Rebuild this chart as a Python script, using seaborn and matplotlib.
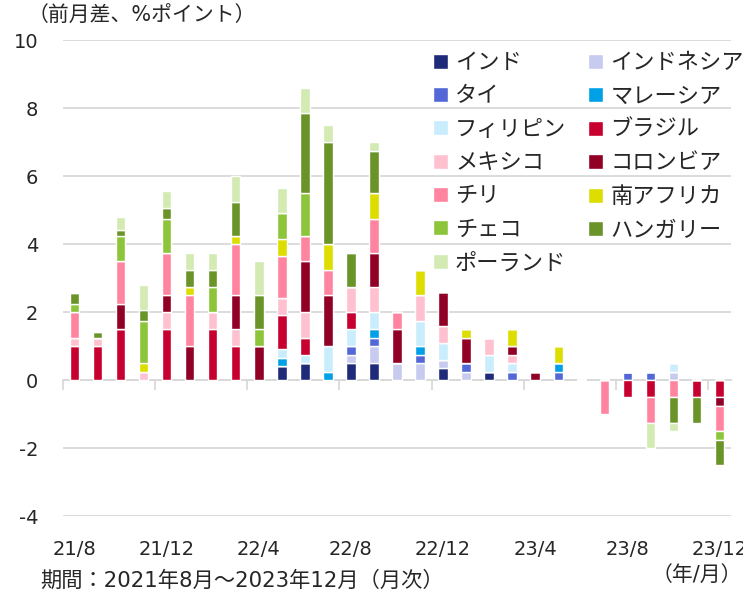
import numpy as np
import matplotlib
matplotlib.use("Agg")
import matplotlib.pyplot as plt
import seaborn as sns
from matplotlib.patches import Patch

# months 2021/8 .. 2023/12
months = ["21/8", "21/9", "21/10", "21/11", "21/12",
          "22/1", "22/2", "22/3", "22/4", "22/5", "22/6", "22/7", "22/8",
          "22/9", "22/10", "22/11", "22/12",
          "23/1", "23/2", "23/3", "23/4", "23/5", "23/6", "23/7", "23/8",
          "23/9", "23/10", "23/11", "23/12"]

# month-over-month change of policy rate (%pt)
india =       [0, 0, 0, 0, 0,  0, 0, 0, 0, 0.4,  0.5, 0, 0.5, 0.5, 0,  0, 0.35, 0, 0.25, 0,  0, 0, 0, 0, 0,  0, 0, 0, 0]
indonesia =   [0, 0, 0, 0, 0,  0, 0, 0, 0, 0,  0, 0, 0.25, 0.5, 0.5,  0.5, 0.25, 0.25, 0, 0,  0, 0, 0, 0, 0,  0, 0.25, 0, 0]
thailand =    [0, 0, 0, 0, 0,  0, 0, 0, 0, 0,  0, 0, 0.25, 0.25, 0,  0.25, 0, 0.25, 0, 0.25,  0, 0.25, 0, 0, 0.25,  0.25, 0, 0, 0]
malaysia =    [0, 0, 0, 0, 0,  0, 0, 0, 0, 0.25,  0, 0.25, 0, 0.25, 0,  0.25, 0, 0, 0, 0,  0, 0.25, 0, 0, 0,  0, 0, 0, 0]
philippines = [0, 0, 0, 0, 0,  0, 0, 0, 0, 0.25,  0.25, 0.75, 0.5, 0.5, 0,  0.75, 0.5, 0, 0.5, 0.25,  0, 0, 0, 0, 0,  0, 0.25, 0, 0]
brazil =      [1, 1, 1.5, 0, 1.5,  0, 1.5, 1, 0, 1,  0.5, 0, 0.5, 0, 0,  0, 0, 0, 0, 0,  0, 0, 0, 0, -0.5,  -0.5, 0, -0.5, -0.5]
mexico =      [0.25, 0.25, 0, 0.25, 0.5,  0, 0.5, 0.5, 0, 0.5,  0.75, 0, 0.75, 0.75, 0,  0.75, 0.5, 0, 0.5, 0.25,  0, 0, 0, 0, 0,  0, 0, 0, 0]
colombia =    [0, 0, 0.75, 0, 0.5,  1, 0, 1, 1, 0,  1.5, 1.5, 0, 1, 1,  0, 1, 0.75, 0, 0.25,  0.25, 0, 0, 0, 0,  0, 0, 0, -0.25]
chile =       [0.75, 0, 1.25, 0, 1.25,  1.5, 0, 1.5, 0, 1.25,  0.75, 0.75, 0, 1, 0.5,  0, 0, 0, 0, 0,  0, 0, 0, -1, 0,  -0.75, -0.5, 0, -0.75]
safrica =     [0, 0, 0, 0.25, 0,  0.25, 0, 0.25, 0, 0.5,  0, 0.75, 0, 0.75, 0,  0.75, 0, 0.25, 0, 0.5,  0, 0.5, 0, 0, 0,  0, 0, 0, 0]
czech =       [0.25, 0, 0.75, 1.25, 1,  0, 0.75, 0, 0.5, 0.75,  1.25, 0, 0, 0, 0,  0, 0, 0, 0, 0,  0, 0, 0, 0, 0,  0, 0, 0, -0.25]
hungary =     [0.3, 0.15, 0.15, 0.3, 0.3,  0.5, 0.5, 1, 1, 0,  2.35, 3, 1, 1.25, 0,  0, 0, 0, 0, 0,  0, 0, 0, 0, 0,  0, -0.75, -0.75, -0.75]
poland =      [0, 0, 0.4, 0.75, 0.5,  0.5, 0.5, 0.75, 1, 0.75,  0.75, 0.5, 0, 0.25, 0,  0, 0, 0, 0, 0,  0, 0, 0, 0, 0,  -0.75, -0.25, 0, 0]

names = ["インド", "インドネシア", "タイ", "マレーシア", "フィリピン", "ブラジル", "メキシコ",
         "コロンビア", "チリ", "南アフリカ", "チェコ", "ハンガリー", "ポーランド"]
series = [india, indonesia, thailand, malaysia, philippines, brazil, mexico,
          colombia, chile, safrica, czech, hungary, poland]
colors = ["#1f2b78", "#c6cbef", "#5368d6", "#00a0e6", "#c9edfc", "#c8002f", "#ffc0d0",
          "#910025", "#ff84a0", "#dddd00", "#8cc43a", "#6a9328", "#d3eab3"]

sns.set_style("white")
plt.rcParams["font.family"] = ["DejaVu Sans", "Noto Sans CJK JP"]
plt.rcParams["axes.unicode_minus"] = False

fig = plt.figure(figsize=(7.43, 5.9), dpi=100)
ax = fig.add_axes([63 / 743, 1 - 516 / 590, 668 / 743, 476 / 590])

pos_base = np.zeros(len(months))
neg_base = np.zeros(len(months))
for vals, c in zip(series, colors):
    v = np.array(vals, dtype=float)
    bottom = np.where(v >= 0, pos_base, neg_base)
    sns.barplot(x=months, y=v, order=months, color=c, saturation=1, width=0.41,
                errorbar=None, bottom=bottom, zorder=3, ax=ax)
    pos_base += np.clip(v, 0, None)
    neg_base += np.clip(v, None, 0)

grid_c = "#d9d9d9"
ax.set_xlim(-0.5, len(months) - 0.5)
ax.set_ylim(-4, 10)
ax.set_yticks(range(-4, 11, 2))
ax.yaxis.grid(True, color=grid_c, linewidth=1.3)
ax.set_axisbelow(True)
ax.set_xticks(range(0, len(months), 4), months[::4])
ax.tick_params(axis="y", length=0, pad=18, labelsize=14)
ax.tick_params(axis="x", length=0, pad=17, labelsize=14)
for s in ax.spines.values():
    s.set_visible(False)
ax.set_xlabel("")
ax.set_ylabel("")

# category axis at y = 0 with tick marks between groups of 4 months
sec = ax.secondary_xaxis(0, transform=ax.transData)
sec.set_xticks(np.arange(-0.5, len(months) - 1, 4))
sec.tick_params(length=7, width=1.3, color=grid_c, labelbottom=False)
sec.spines["bottom"].set_color(grid_c)
sec.spines["bottom"].set_linewidth(1.3)

handles = [Patch(facecolor=c) for c in colors]
order = list(range(0, 13, 2)) + list(range(1, 13, 2))
fig.legend([handles[i] for i in order], [names[i] for i in order], ncol=2,
           loc="upper left", bbox_to_anchor=(433 / 743, 1 - 53 / 590),
           frameon=False, fontsize=16, handlelength=0.66, handleheight=0.66,
           handletextpad=0.33, columnspacing=1.0, labelspacing=0.6,
           borderpad=0, borderaxespad=0)

fig.text(28 / 743, 1 - 16 / 590, "（前月差、%ポイント）", fontsize=15, va="center", ha="left")
fig.text(40 / 743, 1 - 581 / 590, "期間：2021年8月～2023年12月（月次）", fontsize=15.3,
         va="center", ha="left")
fig.text(742 / 743, 1 - 575 / 590, "（年/月）", fontsize=15, va="center", ha="right")

fig.savefig("out.png", dpi=100)
